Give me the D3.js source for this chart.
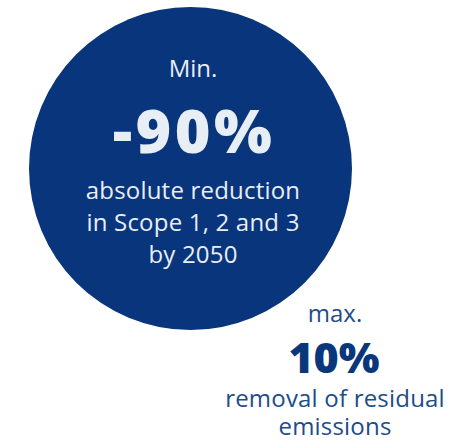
<!DOCTYPE html>
<html><head><meta charset="utf-8">
<script src="https://cdn.jsdelivr.net/npm/d3@7"></script>
<style>html,body{margin:0;padding:0;background:#fff;}svg{display:block;}</style>
</head><body>
<svg id="c" width="470" height="441"></svg>
<script>
const values = [90, 10];
const prefixes = ["Min.", "max."];
const headlines = ["-90%", "10%"];
const captions = [["absolute reduction", "in Scope 1, 2 and 3", "by 2050"], ["removal of residual", "emissions"]];

const svg = d3.select("#c");
const font = "'Open Sans', 'Noto Sans', sans-serif";
const r = d3.scaleSqrt().domain([0, 90]).range([0, 161.5]);

// big circle
svg.append("circle")
  .attr("cx", 190.5).attr("cy", 168.5)
  .attr("r", r(values[0]))
  .attr("fill", "#08357b");

const light = "#e8eef6";
const g1 = svg.append("g").attr("text-anchor", "middle").attr("font-family", font);
g1.append("text").attr("x", 193).attr("y", 77).attr("font-size", 24).attr("fill", light).text(prefixes[0]);
g1.append("text").attr("x", 194).attr("y", 153).attr("font-size", 61).attr("font-weight", 800)
  .attr("letter-spacing", 3.5).attr("fill", light).text(headlines[0]);
captions[0].forEach((t, i) => {
  g1.append("text").attr("x", 193).attr("y", 199 + i * 32).attr("font-size", 24)
    .attr("letter-spacing", 0.2).attr("fill", light).text(t);
});

const g2 = svg.append("g").attr("text-anchor", "middle").attr("font-family", font);
g2.append("text").attr("x", 335).attr("y", 322).attr("font-size", 24).attr("fill", "#1d4c8a").text(prefixes[1]);
g2.append("text").attr("x", 334).attr("y", 373).attr("font-size", 43).attr("font-weight", 800)
  .attr("fill", "#0a377c").text(headlines[1]);
captions[1].forEach((t, i) => {
  g2.append("text").attr("x", 335).attr("y", 407 + i * 28).attr("font-size", 24)
    .attr("letter-spacing", 0.2).attr("fill", "#1d4c8a").text(t);
});
</script>
</body></html>
